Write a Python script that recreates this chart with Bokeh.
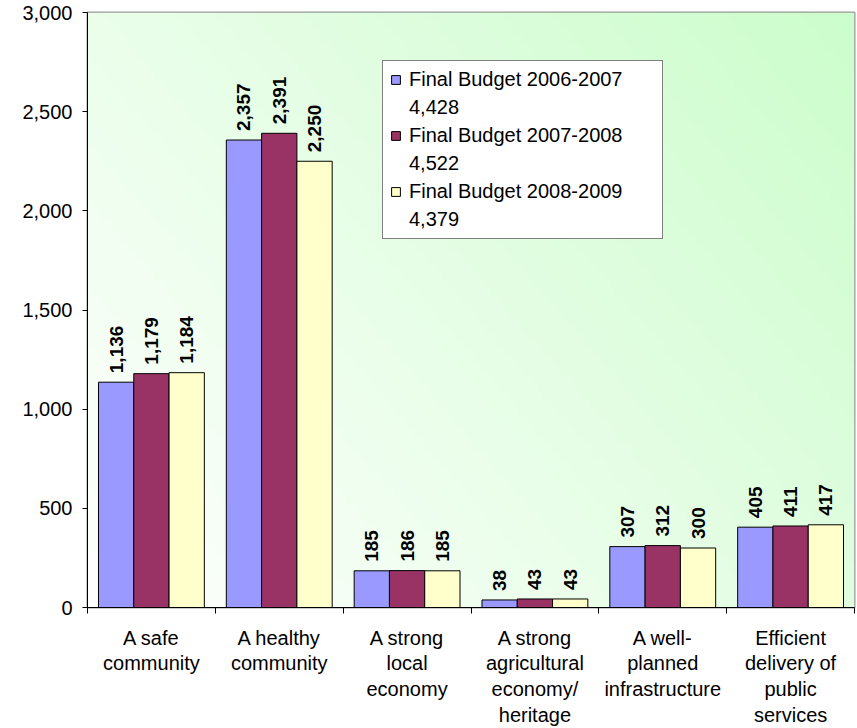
import numpy as np
from bokeh.plotting import figure
from bokeh.models import Range1d, FixedTicker, NumeralTickFormatter, Legend, LegendItem
from bokeh.core.properties import value
from bokeh.embed import file_html
from bokeh.resources import INLINE

# ---- data ----
categories = [
    "A safe\ncommunity",
    "A healthy\ncommunity",
    "A strong\nlocal\neconomy",
    "A strong\nagricultural\neconomy/\nheritage",
    "A well-\nplanned\ninfrastructure",
    "Efficient\ndelivery of\npublic\nservices",
]
series_names = ["Final Budget 2006-2007", "Final Budget 2007-2008", "Final Budget 2008-2009"]
budget_2006_2007 = [1136, 2357, 185, 38, 307, 405]
budget_2007_2008 = [1179, 2391, 186, 43, 312, 411]
budget_2008_2009 = [1184, 2250, 185, 43, 300, 417]
y_ticks = [0, 500, 1000, 1500, 2000, 2500, 3000]

series = [budget_2006_2007, budget_2007_2008, budget_2008_2009]
colors = ["#9999FF", "#993366", "#FFFFCC"]
FONT = "Liberation Sans"

n = len(categories)
ymax = y_ticks[-1]

p = figure(width=857, height=728, x_range=Range1d(0, n), y_range=Range1d(0, ymax),
           output_backend="svg", toolbar_location=None, title=None,
           min_border_left=87, min_border_right=3, min_border_top=12, min_border_bottom=120)
p.background_fill_color = "white"
p.border_fill_color = "white"
p.outline_line_color = "#999999"
p.outline_line_width = 2
p.xgrid.visible = False
p.ygrid.visible = False

# background gradient (white bottom-left -> pale green top-right)
ny, nx = 80, 160
gx, gy = np.meshgrid(np.linspace(0, 1, nx), np.linspace(0, 1, ny))
t = 0.6 * gx + 0.4 * gy
img = np.empty((ny, nx), dtype=np.uint32)
view = img.view(dtype=np.uint8).reshape((ny, nx, 4))
view[:, :, 0] = (255 - t * 51).astype(np.uint8)
view[:, :, 1] = (255 - t * 2).astype(np.uint8)
view[:, :, 2] = (255 - t * 51).astype(np.uint8)
view[:, :, 3] = 255
p.image_rgba(image=[img], x=0, y=0, dw=n, dh=ymax)

w = 0.276
renderers = []
for k, (vals, col) in enumerate(zip(series, colors)):
    xs = [i + 0.5 + (k - 1) * w for i in range(n)]
    r = p.vbar(x=xs, top=vals, bottom=0, width=w, fill_color=col, line_color="black", line_width=1)
    renderers.append(r)
    p.text(x=xs, y=vals, text=[f"{v:,}" for v in vals], angle=np.pi / 2,
           text_align="left", text_baseline="middle", x_offset=0, y_offset=-9,
           text_font=value(FONT), text_font_style="bold", text_font_size="19px",
           text_color="black")

# invisible renderer used for the legend's total lines
blank = p.scatter(x=[], y=[], size=1, fill_alpha=0, line_alpha=0)

# axes
p.yaxis.ticker = FixedTicker(ticks=y_ticks)
p.yaxis.formatter = NumeralTickFormatter(format="0,0")
p.yaxis.major_tick_out = 5
p.yaxis.major_tick_in = 0
p.yaxis.minor_tick_line_color = None
p.yaxis.major_label_standoff = 10
p.yaxis.major_label_text_font = FONT
p.yaxis.major_label_text_font_size = "20px"
p.yaxis.major_label_text_color = "black"
p.yaxis.axis_line_color = "black"

centers = [i + 0.5 for i in range(n)]
p.xaxis.ticker = FixedTicker(ticks=centers, minor_ticks=list(range(n + 1)))
p.xaxis.major_label_overrides = {c: lab for c, lab in zip(centers, categories)}
p.xaxis.major_tick_line_color = None
p.xaxis.minor_tick_out = 6
p.xaxis.minor_tick_in = 0
p.xaxis.minor_tick_line_color = "black"
p.xaxis.major_label_standoff = 13
p.xaxis.major_label_text_font = FONT
p.xaxis.major_label_text_font_size = "20px"
p.xaxis.major_label_text_line_height = 1.17
p.xaxis.major_label_text_color = "black"
p.xaxis.axis_line_color = "black"

items = []
for name, vals, r in zip(series_names, series, renderers):
    items.append(LegendItem(label=name, renderers=[r]))
    items.append(LegendItem(label=f"{sum(vals):,}", renderers=[blank]))
legend = Legend(items=items, location=(295, 368), border_line_color="black",
                border_line_width=1.5, background_fill_color="white", background_fill_alpha=1,
                label_text_font=FONT, label_text_font_size="20px", label_text_color="black",
                glyph_width=11, glyph_height=11, label_standoff=8, padding=7, spacing=5,
                margin=0, label_width=246, label_height=23)
p.add_layout(legend)

open("out.html", "w").write(file_html(p, INLINE))
